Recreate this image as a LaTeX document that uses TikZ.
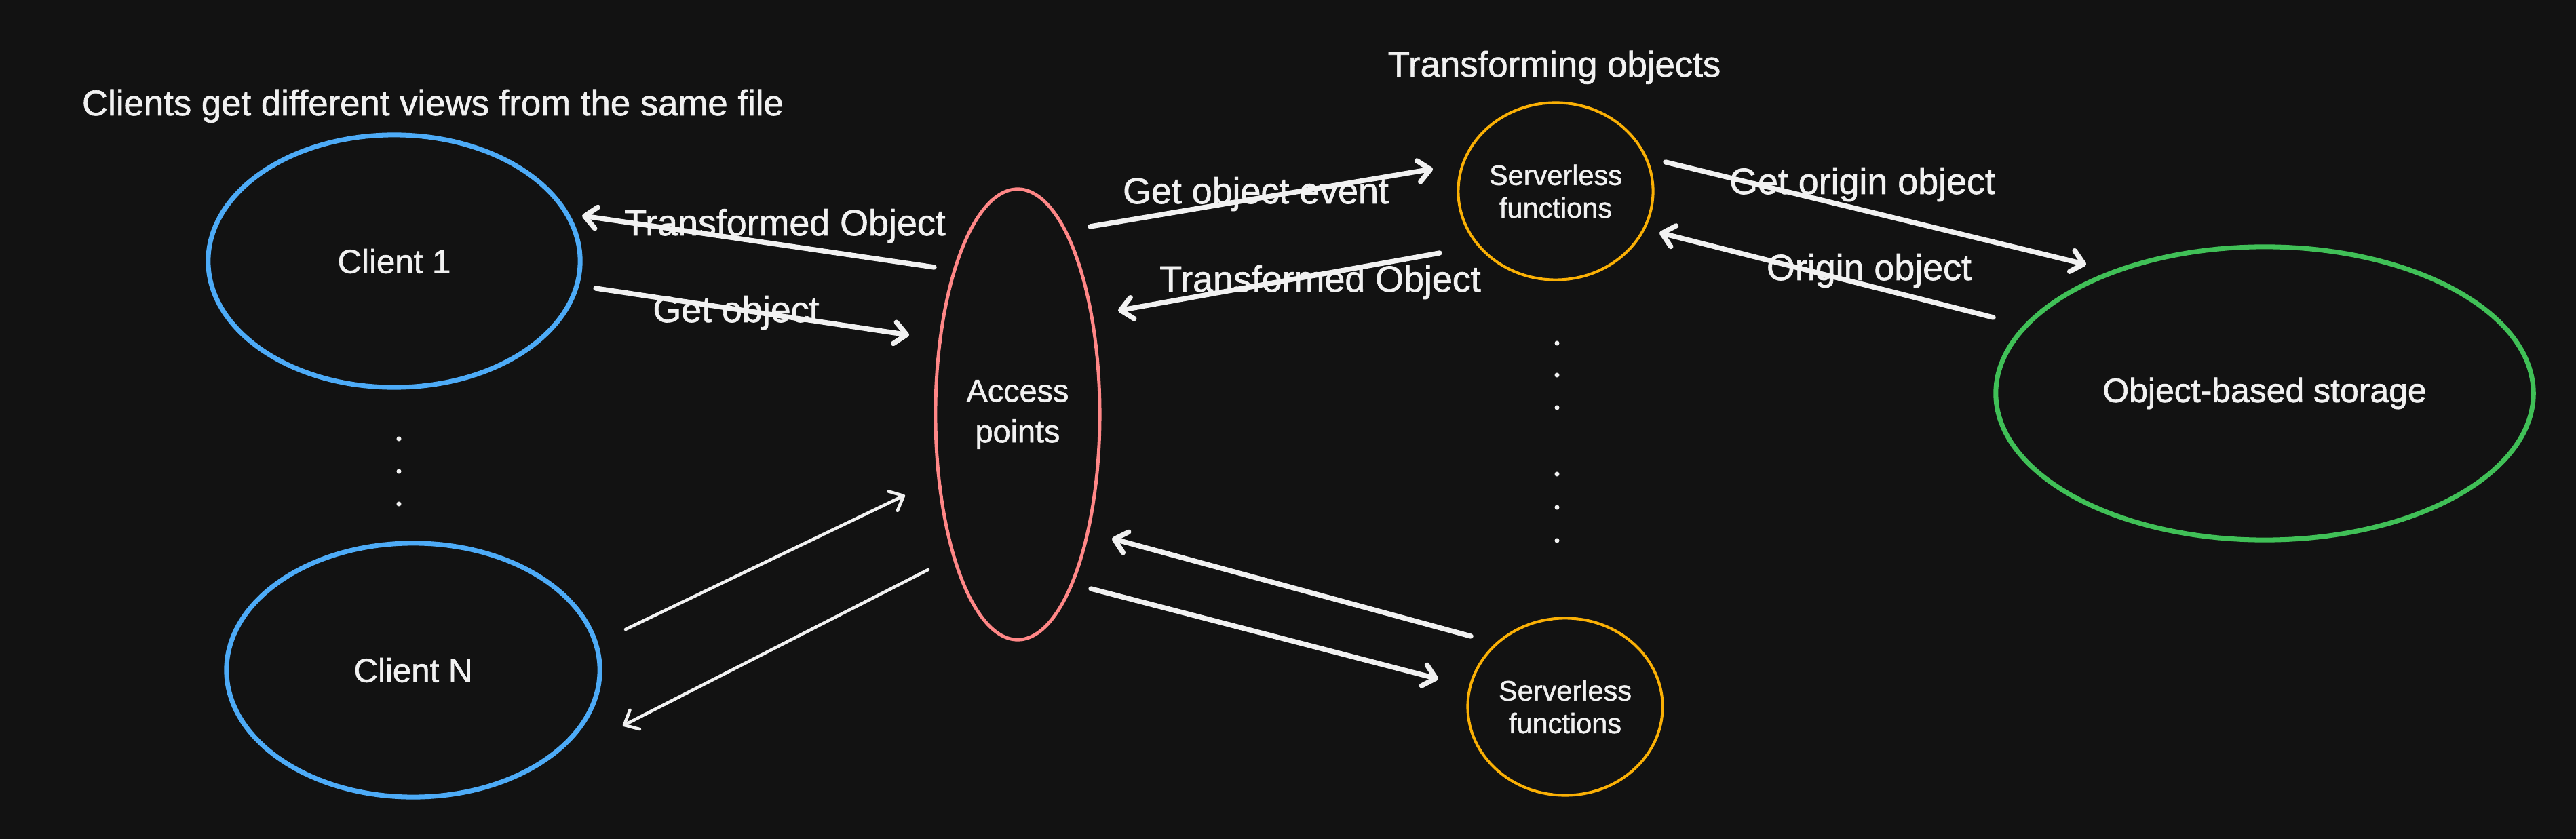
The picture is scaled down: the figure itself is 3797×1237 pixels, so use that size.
\documentclass[tikz,border=0pt]{standalone}
\usepackage{fontspec}
\setmainfont{Liberation Sans}[FakeBold=1.2]
\usetikzlibrary{arrows.meta,shapes.geometric}
\definecolor{bg}{HTML}{121212}
\definecolor{txt}{HTML}{F1F1F1}
\definecolor{cblue}{HTML}{4DABF7}
\definecolor{cred}{HTML}{FF8787}
\definecolor{cyellow}{HTML}{FAB005}
\definecolor{cgreen}{HTML}{40C057}
\begin{document}
\begin{tikzpicture}[x=0.01cm,y=-0.01cm,
  every node/.style={text=txt},
  blob/.style={ellipse, draw, inner sep=0pt, align=center},
  clientbox/.style={blob, draw=cblue, line width=2pt, font=\fontsize{14pt}{17pt}\selectfont},
  fnbox/.style={blob, draw=cyellow, line width=1.15pt, minimum width=2.87cm, minimum height=2.61cm, font=\fontsize{11.8pt}{13.7pt}\selectfont},
  arr/.style={draw=txt, line width=2.1pt, line cap=round, -{Straight Barb[length=5pt,width=9pt,line cap=round,line join=round]}},
  thinarr/.style={arr, line width=1.3pt},
  lbl/.style={anchor=base, font=\fontsize{15.3pt}{18pt}\selectfont},
  dotmark/.style={circle, fill=txt, inner sep=0pt, minimum size=2pt},
]
\fill[bg] (0,0) rectangle (3797,1237);
\useasboundingbox (0,0) rectangle (3797,1237);

% titles
\node[lbl, font=\fontsize{15pt}{18pt}\selectfont] (t1) at (638,170) {Clients get different views from the same file};
\node[lbl, font=\fontsize{15pt}{18pt}\selectfont] (t2) at (2291,113) {Transforming objects};

% nodes
\node[clientbox, minimum width=5.48cm, minimum height=3.72cm] (c1) at (581,385) {Client 1};
\node[clientbox, minimum width=5.50cm, minimum height=3.74cm] (cn) at (609,988) {Client N};
\node[blob, draw=cred, line width=1.4pt, minimum width=2.42cm, minimum height=6.64cm,
      font=\fontsize{13.3pt}{17pt}\selectfont] (ap) at (1500,611) {Access\\points};
\node[fnbox] (sf1) at (2293,282) {Serverless\\functions};
\node[fnbox] (sf2) at (2307,1042) {Serverless\\functions};
\node[blob, draw=cgreen, line width=2pt, minimum width=7.92cm, minimum height=4.32cm,
      font=\fontsize{14.2pt}{17pt}\selectfont] (st) at (3338,580) {Object-based storage};

% dots
\node[dotmark] (dl1) at (588,647) {};
\node[dotmark] (dl2) at (588,695) {};
\node[dotmark] (dl3) at (588,743) {};
\node[dotmark] (dm1) at (2295,506) {};
\node[dotmark] (dm2) at (2295,553) {};
\node[dotmark] (dm3) at (2295,601) {};
\node[dotmark] (dm4) at (2295,699) {};
\node[dotmark] (dm5) at (2295,748) {};
\node[dotmark] (dm6) at (2295,797) {};

% arrows
\draw[arr] ([shift={(-123,-217)}]ap.center) -- ([shift={(277,-67)}]c1.center);
\draw[arr] ([shift={(297,40)}]c1.center) -- ([shift={(-160,-117)}]ap.center);
\draw[arr] ([shift={(107,-277)}]ap.center) -- ([shift={(-181,-33)}]sf1.center);
\draw[arr] ([shift={(-171,91)}]sf1.center) -- ([shift={(148,-153)}]ap.center);
\draw[arr] ([shift={(162,-43)}]sf1.center) -- ([shift={(-263,-190)}]st.center);
\draw[arr] ([shift={(-400,-112)}]st.center) -- ([shift={(153,61)}]sf1.center);
\draw[thinarr] ([shift={(313,-60)}]cn.center) -- ([shift={(-166,119)}]ap.center);
\draw[thinarr] ([shift={(-132,229)}]ap.center) -- ([shift={(309,82)}]cn.center);
\draw[arr] ([shift={(-139,-104)}]sf2.center) -- ([shift={(139,183)}]ap.center);
\draw[arr] ([shift={(108,257)}]ap.center) -- ([shift={(-187,-41)}]sf2.center);

% labels
\node[lbl] (l1) at (1157,347) {Transformed Object};
\node[lbl] (l2) at (1085,475) {Get object};
\node[lbl] (l3) at (1851,300) {Get object event};
\node[lbl] (l4) at (1946,430) {Transformed Object};
\node[lbl] (l5) at (2745,286) {Get origin object};
\node[lbl] (l6) at (2755,413) {Origin object};
\end{tikzpicture}
\end{document}
